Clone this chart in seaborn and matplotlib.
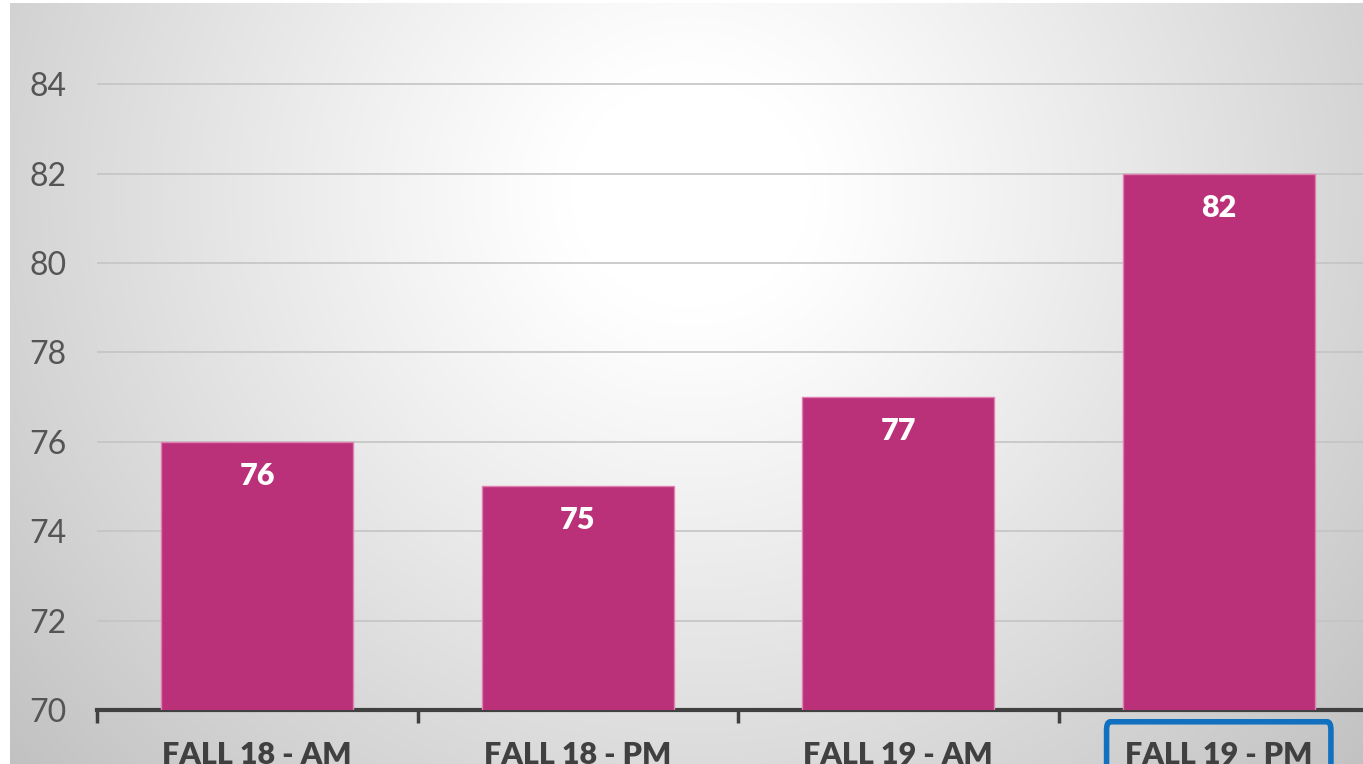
import numpy as np
import pandas as pd
import matplotlib
matplotlib.use("Agg")
import matplotlib.pyplot as plt
from matplotlib.patches import FancyBboxPatch
from matplotlib.transforms import blended_transform_factory
import seaborn as sns

categories = ["FALL 18 - AM", "FALL 18 - PM", "FALL 19 - AM", "FALL 19 - PM"]
values = [76, 75, 77, 82]
y_ticks = [70, 72, 74, 76, 78, 80, 82, 84]

sns.set_theme(style="white")
plt.rcParams['font.family'] = ['Lato', 'DejaVu Sans']

W, H = 1363, 764
fig = plt.figure(figsize=(W / 100, H / 100), dpi=100)
fig.patch.set_facecolor("white")

# background radial gradient panel
bg = fig.add_axes([10 / W, 0, 1 - 10 / W, 1 - 3 / H], zorder=0)
ny, nx = 380, 680
yy, xx = np.mgrid[0:ny, 0:nx]
px = xx * (W - 10) / nx
py = yy * (H - 3) / ny
d = np.sqrt((px - 680) ** 2 + ((py - 190) * 1.05) ** 2)
g = 1.0 - 0.24 * np.clip((d - 120) / 780, 0, 1) ** 1.1
img = np.dstack([g, g, g])
bg.imshow(img, aspect="auto", extent=[0, 1, 0, 1], origin="upper", interpolation="bilinear")
bg.set_axis_off()

ax_top = 17
ax = fig.add_axes([97 / W, 54 / H, (1379 - 97) / W, (710 - ax_top) / H], zorder=1)
ax.patch.set_alpha(0)

df = pd.DataFrame({"cat": categories, "val": values})
sns.barplot(data=df, x="cat", y="val", order=categories, color="#ba3079",
            saturation=1, width=0.6, edgecolor="#e07fb0", linewidth=1, ax=ax, zorder=3)

ax.set_ylim(70, 70 + (710 - ax_top) / 44.7)
ax.set_xlim(-0.5, 3.5)
ax.set_yticks(y_ticks)
ax.set_yticklabels([str(v) for v in y_ticks], fontsize=23, color="#555555")
ax.tick_params(axis="y", length=0, pad=22)
ax.yaxis.grid(True, color="#c4c4c4", linewidth=1.2, zorder=1)
ax.set_axisbelow(True)

ax.set_xticks(range(len(categories)))
ax.set_xticklabels(categories, fontsize=22, fontweight="heavy", color="#404040")
ax.set_xticks([-0.5, 0.5, 1.5, 2.5, 3.5], minor=True)
ax.tick_params(axis="x", which="major", length=0, pad=22)
ax.tick_params(axis="x", which="minor", bottom=True, length=9, width=2.5, color="#404040", direction="out")
ax.set_xlabel("")
ax.set_ylabel("")

for s in ["top", "right", "left"]:
    ax.spines[s].set_visible(False)
ax.spines["bottom"].set_color("#404040")
ax.spines["bottom"].set_linewidth(3)

for i, v in enumerate(values):
    ax.annotate(str(v), (i, v), xytext=(0, -34), textcoords="offset pixels",
                ha="center", va="center", color="white", fontsize=22, fontweight="heavy", zorder=5)

trans = blended_transform_factory(ax.transData, ax.transAxes)
box = FancyBboxPatch((3 - 0.35, -0.2), 0.70, 0.2 - 0.017,
                     boxstyle="round,pad=0,rounding_size=0.012", transform=trans,
                     fill=False, edgecolor="#1270c0", linewidth=4, clip_on=False, zorder=6)
ax.add_patch(box)

fig.savefig("out.png", dpi=100)
